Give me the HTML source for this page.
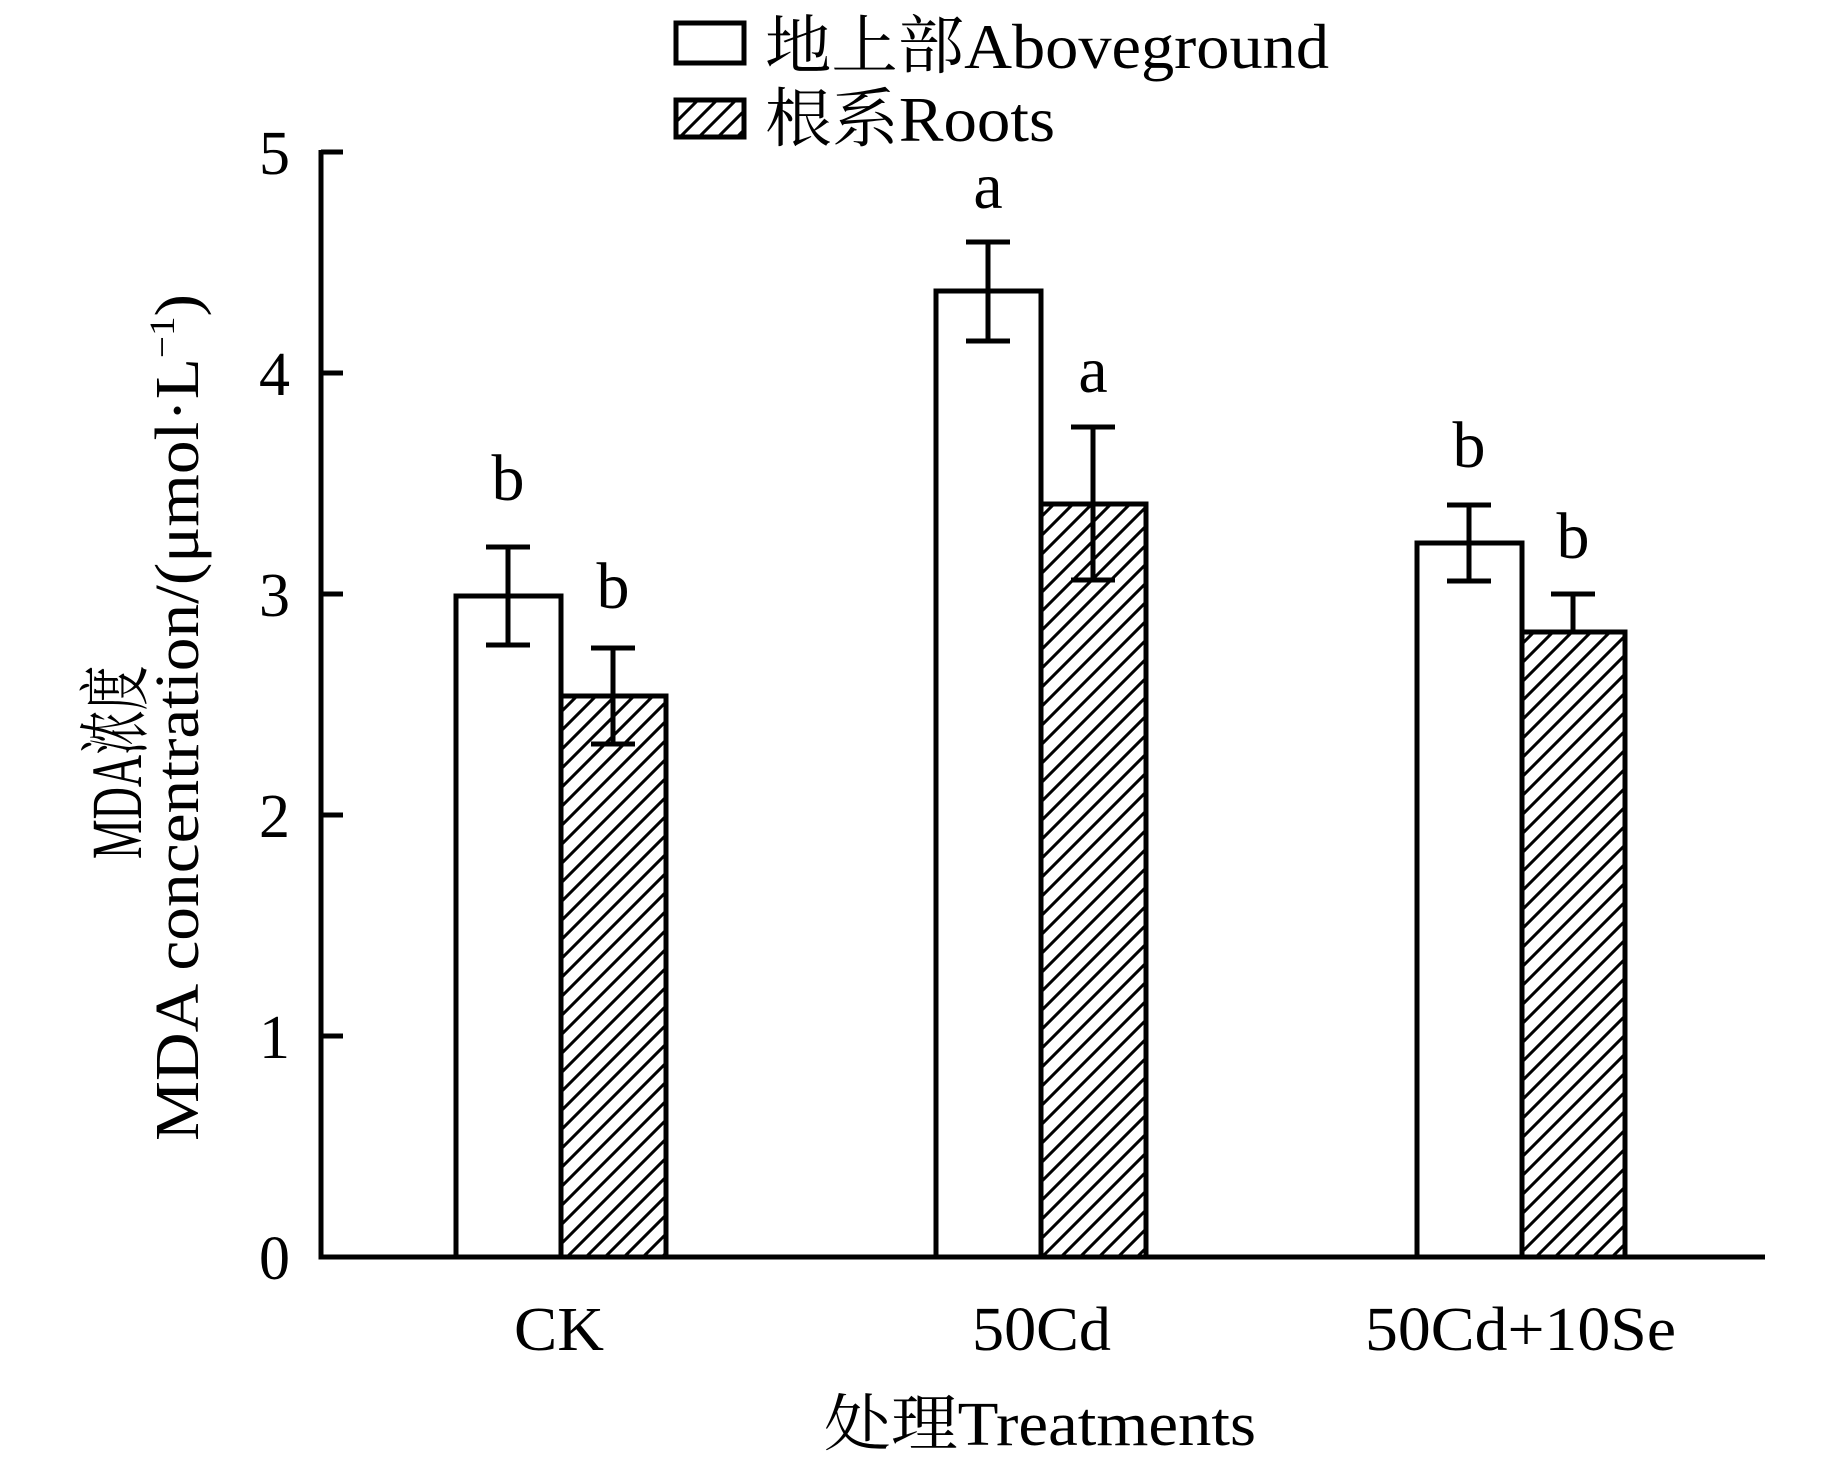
<!DOCTYPE html>
<html><head><meta charset="utf-8"><style>html,body{margin:0;padding:0;background:#fff}svg{display:block}</style></head>
<body>
<svg width="1843" height="1465" viewBox="0 0 1843 1465" xmlns="http://www.w3.org/2000/svg" font-family="Liberation Serif, Noto Serif CJK SC, serif">
<defs>
<pattern id="h" patternUnits="userSpaceOnUse" width="19" height="19">
<line x1="-5" y1="24" x2="24" y2="-5" stroke="#000" stroke-width="3"/>
<line x1="-5" y1="5" x2="5" y2="-5" stroke="#000" stroke-width="3"/>
<line x1="14" y1="24" x2="24" y2="14" stroke="#000" stroke-width="3"/>
</pattern>
</defs>
<rect x="676" y="23" width="68" height="40" fill="#fff" stroke="#000" stroke-width="5"/>
<rect x="676" y="100" width="68" height="37" fill="url(#h)" stroke="#000" stroke-width="5"/>
<text x="765" y="68" font-size="64" textLength="564" lengthAdjust="spacingAndGlyphs">地上部Aboveground</text>
<text x="765" y="141" font-size="64" textLength="290" lengthAdjust="spacingAndGlyphs">根系Roots</text>
<g stroke="#000" stroke-width="5">
<rect x="456" y="596" width="105" height="661" fill="#fff"/>
<rect x="561" y="696" width="105" height="561" fill="url(#h)"/>
<rect x="936" y="291" width="105" height="966" fill="#fff"/>
<rect x="1041" y="504" width="105" height="753" fill="url(#h)"/>
<rect x="1417" y="543" width="105" height="714" fill="#fff"/>
<rect x="1522" y="632" width="103" height="625" fill="url(#h)"/>
</g>
<g stroke="#000" stroke-width="5" fill="none">
<path d="M508 547V645M486 547H530M486 645H530"/>
<path d="M613 648V744M591 648H635M591 744H635"/>
<path d="M988 242V341M966 242H1010M966 341H1010"/>
<path d="M1093 427V580M1071 427H1115M1071 580H1115"/>
<path d="M1469 505V581M1447 505H1491M1447 581H1491"/>
<path d="M1573 594V632M1551 594H1595"/>
</g>
<g font-size="66" text-anchor="middle">
<text x="508" y="500">b</text>
<text x="613" y="608">b</text>
<text x="988" y="208">a</text>
<text x="1093" y="392">a</text>
<text x="1469" y="467">b</text>
<text x="1573" y="558">b</text>
</g>
<path d="M321 150V1257H1765" stroke="#000" stroke-width="5" fill="none"/>
<g stroke="#000" stroke-width="5">
<line x1="321" y1="152" x2="343" y2="152"/>
<line x1="321" y1="373" x2="343" y2="373"/>
<line x1="321" y1="594" x2="343" y2="594"/>
<line x1="321" y1="815" x2="343" y2="815"/>
<line x1="321" y1="1036" x2="343" y2="1036"/>
</g>
<g font-size="62" text-anchor="end">
<text x="290" y="174">5</text>
<text x="290" y="395">4</text>
<text x="290" y="616">3</text>
<text x="290" y="837">2</text>
<text x="290" y="1058">1</text>
<text x="290" y="1279">0</text>
</g>
<g font-size="62">
<text x="514" y="1350" textLength="90" lengthAdjust="spacingAndGlyphs">CK</text>
<text x="972" y="1350" textLength="139" lengthAdjust="spacingAndGlyphs">50Cd</text>
<text x="1365" y="1350" textLength="311" lengthAdjust="spacingAndGlyphs">50Cd+10Se</text>
<text x="824" y="1445" textLength="432" lengthAdjust="spacingAndGlyphs">处理Treatments</text>
</g>
<g transform="translate(141,859) rotate(-90) scale(0.62,1)"><text x="0" y="0" font-size="72">MDA浓度</text></g>
<text transform="translate(198,1141) rotate(-90)" font-size="62" textLength="847" lengthAdjust="spacingAndGlyphs">MDA concentration/(μmol·L<tspan font-size="36" dy="-24">−1</tspan><tspan dy="24">)</tspan></text>
</svg>
</body></html>
